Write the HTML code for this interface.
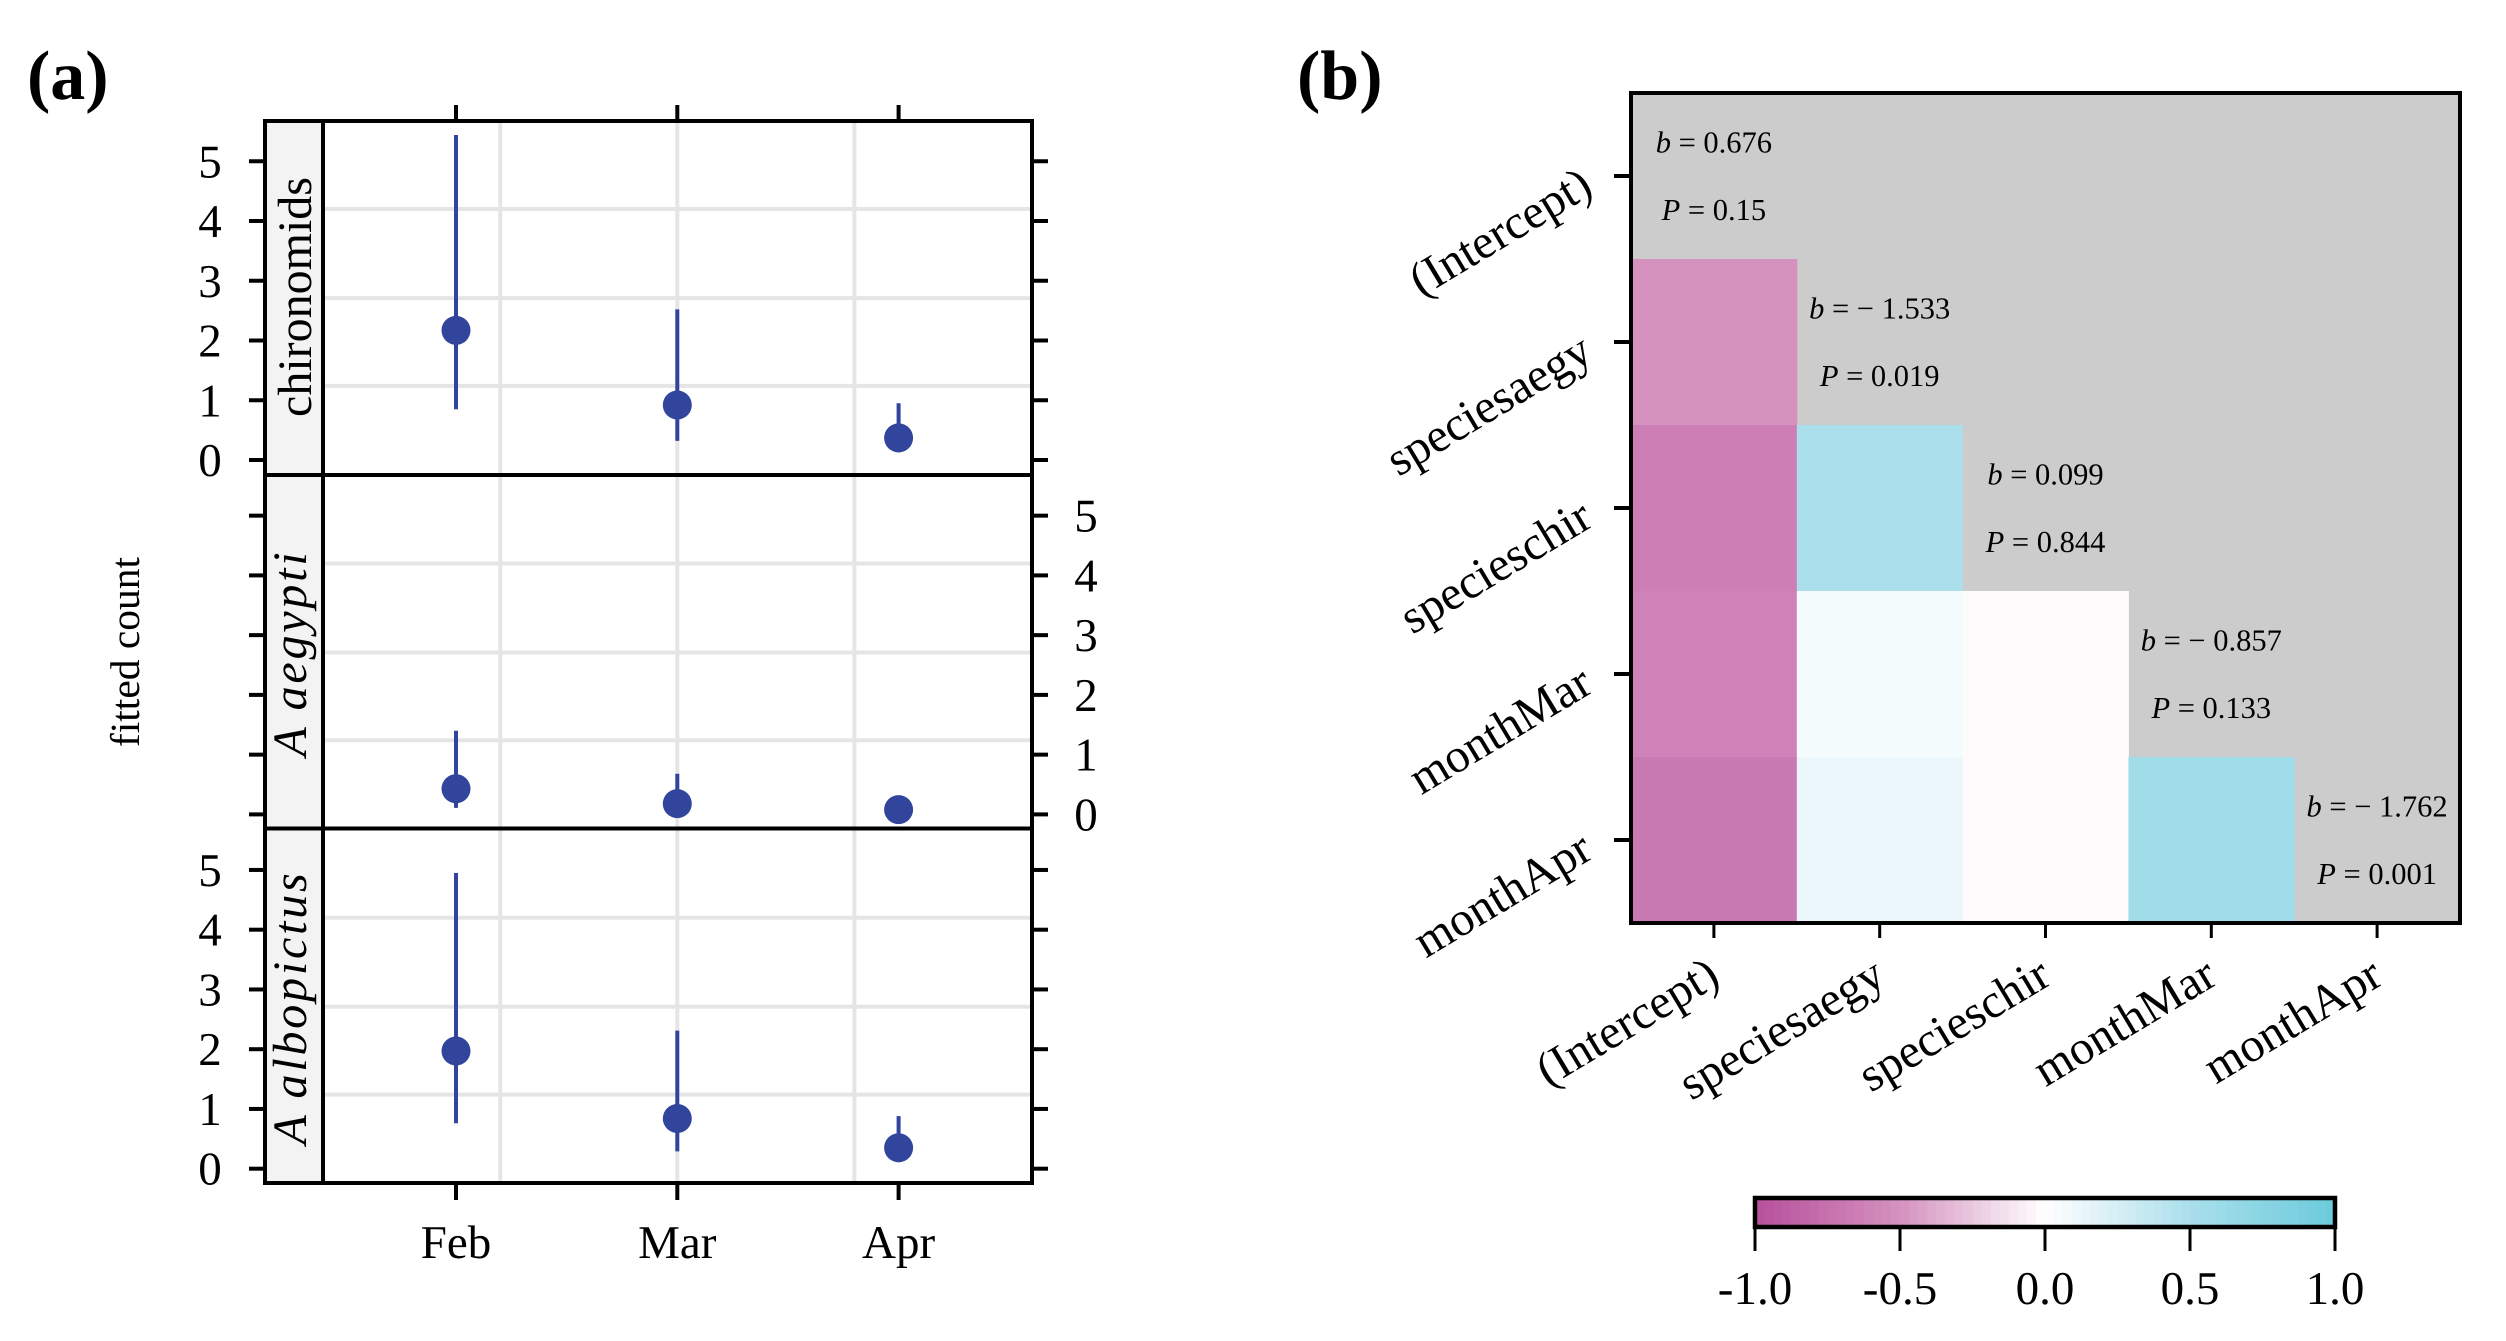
<!DOCTYPE html>
<html lang="en">
<head>
<meta charset="utf-8">
<title>Fitted counts and correlation matrix</title>
<style>
html,body{margin:0;padding:0;background:#fff;}
svg{display:block;}
text{font-family:"Liberation Serif",serif;fill:#000;text-rendering:geometricPrecision;}
</style>
</head>
<body>
<svg id="figure" xmlns="http://www.w3.org/2000/svg" width="2506" height="1341" viewBox="0 0 2506 1341">
<rect width="2506" height="1341" fill="#fff"/>
<text x="27" y="99" font-size="70" font-weight="bold">(a)</text>
<text x="1297" y="99" font-size="70" font-weight="bold">(b)</text>
<text transform="translate(139,652) rotate(-90)" font-size="41.5" text-anchor="middle">fitted count</text>
<g id="panelA"></g>
<g id="panelB"></g>
<g id="colorbar"></g>
</svg>
<script>
// ---- Panel (a) data ----
const months = ['Feb', 'Mar', 'Apr'];
const speciesLabels = ['chironomids', 'A aegypti', 'A albopictus'];
const fitChironomids = [2.17, 0.92, 0.37];
const lowerChironomids = [0.85, 0.32, 0.13];
const upperChironomids = [5.44, 2.52, 0.95];
const fitAegypti = [0.43, 0.18, 0.08];
const lowerAegypti = [0.11, 0.05, 0.02];
const upperAegypti = [1.40, 0.68, 0.20];
const fitAlbopictus = [1.97, 0.84, 0.35];
const lowerAlbopictus = [0.76, 0.29, 0.11];
const upperAlbopictus = [4.95, 2.31, 0.88];
const countTicks = [0, 1, 2, 3, 4, 5];
const gridCounts = [1.24, 2.71, 4.2];
const gridMonths = [0.2, 1, 1.8];

// ---- Panel (b) data ----
const termLabels = ['(Intercept)', 'speciesaegy', 'specieschir', 'monthMar', 'monthApr'];
const correlations1 = [-0.5];
const correlations2 = [-0.65, 0.5];
const correlations3 = [-0.62, 0.07, -0.02];
const correlations4 = [-0.68, 0.12, -0.02, 0.57];
const coefficients = [0.676, -1.533, 0.099, -0.857, -1.762];
const pValues = ['0.15', '0.019', '0.844', '0.133', '0.001'];
const colorbarTicks = [-1, -0.5, 0, 0.5, 1];
const colorbarLabels = ['-1.0', '-0.5', '0.0', '0.5', '1.0'];

const NS = 'http://www.w3.org/2000/svg';
function make(parent, tag, attrs, content) {
  const el = document.createElementNS(NS, tag);
  for (const k in attrs) el.setAttribute(k, attrs[k]);
  if (content !== undefined) el.textContent = content;
  parent.appendChild(el);
  return el;
}

// ---- Panel (a) drawing ----
const panelA = document.getElementById('panelA');
const frameA = { left: 265, right: 1032, top: 121, bottom: 1183, strip: 323 };
const panelsA = [
  { top: 121, bottom: 475, zero: 460, fit: fitChironomids, lo: lowerChironomids, hi: upperChironomids, side: 'left', italic: false, key: 'chironomids', stripBaseline: 311, stripCenter: 297 },
  { top: 475, bottom: 828.5, zero: 814.4, fit: fitAegypti, lo: lowerAegypti, hi: upperAegypti, side: 'right', italic: true, key: 'aegypti', stripBaseline: 306, stripCenter: 653 },
  { top: 828.5, bottom: 1183, zero: 1168.7, fit: fitAlbopictus, lo: lowerAlbopictus, hi: upperAlbopictus, side: 'left', italic: true, key: 'albopictus', stripBaseline: 306, stripCenter: 1007.5 }
];
const unitY = 59.75;
function xMonth(i) { return 456 + 221.3 * i; }
function yCount(panel, v) { return panel.zero - unitY * v; }

const stripBg = make(panelA, 'rect', { x: frameA.left, y: frameA.top, width: frameA.strip - frameA.left, height: frameA.bottom - frameA.top, fill: '#f3f3f3' });



gridMonths.forEach(function (m) {
  const g = make(panelA, 'line', { x1: xMonth(m), x2: xMonth(m), y1: frameA.top, y2: frameA.bottom, stroke: '#e5e5e5', 'stroke-width': 4 });
  
  
});

panelsA.forEach(function (p, pi) {
  gridCounts.forEach(function (c) {
    const g = make(panelA, 'line', { x1: frameA.strip, x2: frameA.right, y1: yCount(p, c), y2: yCount(p, c), stroke: '#e5e5e5', 'stroke-width': 4 });
    
    
  });
  countTicks.forEach(function (t) {
    const y = yCount(p, t);
    const tl = make(panelA, 'line', { x1: frameA.left - 16, x2: frameA.left, y1: y, y2: y, stroke: '#000', 'stroke-width': 4 });
    
    
    const tr = make(panelA, 'line', { x1: frameA.right, x2: frameA.right + 16, y1: y, y2: y, stroke: '#000', 'stroke-width': 4 });
    
    
    const lx = p.side === 'left' ? 210 : 1086;
    const lab = make(panelA, 'text', { x: lx, y: y + 16, 'font-size': 47, 'text-anchor': 'middle' }, String(t));
    
    
  });
  months.forEach(function (m, i) {
    const x = xMonth(i);
    const bar = make(panelA, 'line', { x1: x, x2: x, y1: yCount(p, p.lo[i]), y2: yCount(p, p.hi[i]), stroke: '#30459b', 'stroke-width': 4 });
    
    
    const dot = make(panelA, 'circle', { cx: x, cy: yCount(p, p.fit[i]), r: 14.5, fill: '#30459b' });
    
    
  });
  const strip = make(panelA, 'text', {
    transform: 'translate(' + p.stripBaseline + ',' + p.stripCenter + ') rotate(-90)',
    'font-size': 48, 'text-anchor': 'middle',
    'font-style': p.italic ? 'italic' : 'normal',
    'letter-spacing': p.italic ? 2.8 : 0
  }, speciesLabels[pi]);
  
  
  if (pi > 0) {
    const d = make(panelA, 'line', { x1: frameA.left, x2: frameA.right, y1: p.top, y2: p.top, stroke: '#000', 'stroke-width': 4 });
    
    
  }
});

const stripRule = make(panelA, 'line', { x1: frameA.strip, x2: frameA.strip, y1: frameA.top, y2: frameA.bottom, stroke: '#000', 'stroke-width': 4 });


const frameRect = make(panelA, 'rect', { x: frameA.left, y: frameA.top, width: frameA.right - frameA.left, height: frameA.bottom - frameA.top, fill: 'none', stroke: '#000', 'stroke-width': 4 });



months.forEach(function (m, i) {
  const x = xMonth(i);
  const top = make(panelA, 'line', { x1: x, x2: x, y1: 105, y2: frameA.top, stroke: '#000', 'stroke-width': 4 });
  
  
  const bot = make(panelA, 'line', { x1: x, x2: x, y1: frameA.bottom, y2: 1200, stroke: '#000', 'stroke-width': 4 });
  
  
  const lab = make(panelA, 'text', { x: x, y: 1258, 'font-size': 47, 'text-anchor': 'middle' }, m);
  
  
});

// ---- Panel (b) drawing ----
const panelB = document.getElementById('panelB');
const frameB = { left: 1631, right: 2460, top: 93, bottom: 923 };
const cellW = (frameB.right - frameB.left) / termLabels.length;
const cellH = (frameB.bottom - frameB.top) / termLabels.length;
function xTerm(i) { return frameB.left + cellW * i; }
function yTerm(i) { return frameB.top + cellH * i; }
const colorStops = [[-1, 183, 80, 156], [-0.5, 213, 146, 191], [0, 255, 255, 255], [0.5, 170, 223, 235], [1, 107, 203, 220]];
function colorFor(v) {
  for (let i = 1; i < colorStops.length; i++) {
    if (v <= colorStops[i][0]) {
      const a = colorStops[i - 1], b = colorStops[i];
      const t = (v - a[0]) / (b[0] - a[0]);
      return 'rgb(' + [1, 2, 3].map(function (c) { return Math.round(a[c] + (b[c] - a[c]) * t); }).join(',') + ')';
    }
  }
  return 'rgb(107,203,220)';
}
const bgB = make(panelB, 'rect', { x: frameB.left, y: frameB.top, width: cellW * 5, height: cellH * 5, fill: '#cccccc' });



[[], correlations1, correlations2, correlations3, correlations4].forEach(function (row, r) {
  row.forEach(function (v, c) {
    const cell = make(panelB, 'rect', { x: xTerm(c), y: yTerm(r), width: cellW + 0.5, height: cellH + 0.5, fill: colorFor(v) });
    
    
  });
});

coefficients.forEach(function (b, i) {
  const cx = xTerm(i) + cellW / 2;
  const t1 = make(panelB, 'text', { x: cx, y: yTerm(i) + 59.5, 'font-size': 30.5, 'text-anchor': 'middle' });
  
  
  make(t1, 'tspan', { 'font-style': 'italic' }, 'b');
  make(t1, 'tspan', {}, ' = ' + (b < 0 ? '\u2212 ' : '') + Math.abs(b).toFixed(3));
  const t2 = make(panelB, 'text', { x: cx, y: yTerm(i) + 127, 'font-size': 30.5, 'text-anchor': 'middle' });
  
  
  make(t2, 'tspan', { 'font-style': 'italic' }, 'P');
  make(t2, 'tspan', {}, ' = ' + pValues[i]);
});

const frameBRect = make(panelB, 'rect', { x: frameB.left, y: frameB.top, width: frameB.right - frameB.left, height: frameB.bottom - frameB.top, fill: 'none', stroke: '#000', 'stroke-width': 4 });



termLabels.forEach(function (label, i) {
  const ty = yTerm(i) + cellH / 2;
  const tickY = make(panelB, 'line', { x1: frameB.left - 17, x2: frameB.left, y1: ty, y2: ty, stroke: '#000', 'stroke-width': 4 });
  
  
  const labY = make(panelB, 'text', { transform: 'translate(' + (frameB.left - 36) + ',' + (ty + 17) + ') rotate(-31)', 'font-size': 48, 'text-anchor': 'end' }, label);
  
  
  const tx = xTerm(i) + cellW / 2;
  const tickX = make(panelB, 'line', { x1: tx, x2: tx, y1: frameB.bottom, y2: 938, stroke: '#000', 'stroke-width': 3 });
  
  
  const labX = make(panelB, 'text', { transform: 'translate(' + (tx + 8) + ',983) rotate(-31)', 'font-size': 48, 'text-anchor': 'end' }, label);
  
  
});

// ---- Colorbar drawing ----
const colorbar = document.getElementById('colorbar');
const cb = { left: 1755, right: 2335, top: 1198, bottom: 1227 };
function xColor(v) { return cb.left + (v + 1) / 2 * (cb.right - cb.left); }
for (let i = 0; i < 64; i++) {
  const v0 = -1 + 2 * i / 64;
  const v1 = -1 + 2 * (i + 1) / 64;
  const swatch = make(colorbar, 'rect', { x: xColor(v0), y: cb.top, width: xColor(v1) - xColor(v0) + 0.5, height: cb.bottom - cb.top, fill: colorFor((v0 + v1) / 2) });
  
  
}
const cbFrame = make(colorbar, 'rect', { x: cb.left, y: cb.top, width: cb.right - cb.left, height: cb.bottom - cb.top, fill: 'none', stroke: '#000', 'stroke-width': 4.5 });


colorbarTicks.forEach(function (v, i) {
  const t = make(colorbar, 'line', { x1: xColor(v), x2: xColor(v), y1: cb.bottom, y2: 1251, stroke: '#000', 'stroke-width': 3 });
  
  
  const lab = make(colorbar, 'text', { x: xColor(v), y: 1304, 'font-size': 47, 'text-anchor': 'middle' }, colorbarLabels[i]);
  
  
});
</script>
</body>
</html>
